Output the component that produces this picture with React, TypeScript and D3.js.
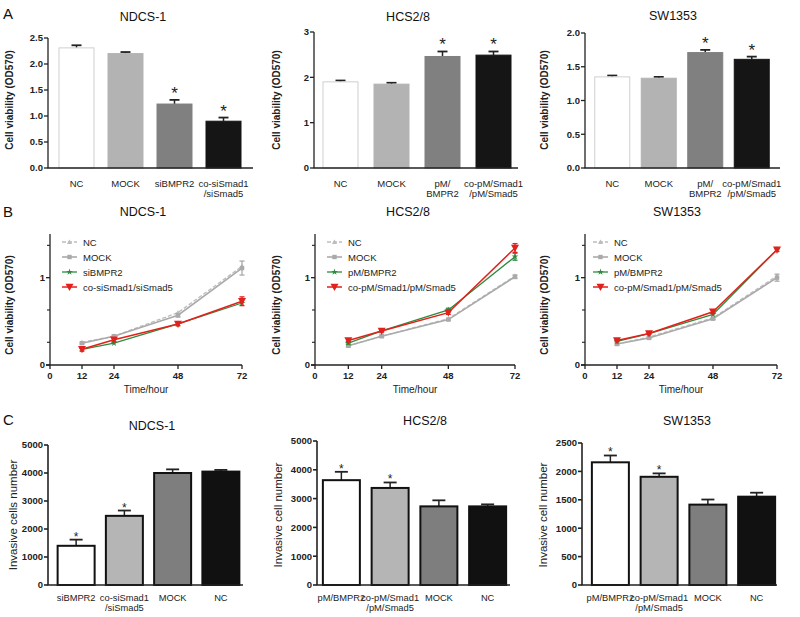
import React from 'react';
import * as d3 from 'd3';

// ---------- Data ----------
const catsA_ND = ['NC', 'MOCK', 'siBMPR2', 'co-siSmad1\n/siSmad5'];
const valsA_ND = [2.31, 2.2, 1.23, 0.9];
const errA_ND = [0.05, 0.03, 0.08, 0.07];
const sigA_ND = [false, false, true, true];

const catsA_HC = ['NC', 'MOCK', 'pM/\nBMPR2', 'co-pM/Smad1\n/pM/Smad5'];
const valsA_HC = [1.9, 1.85, 2.46, 2.49];
const errA_HC = [0.03, 0.03, 0.11, 0.08];
const sigA_HC = [false, false, true, true];

const catsA_SW = ['NC', 'MOCK', 'pM/\nBMPR2', 'co-pM/Smad1\n/pM/Smad5'];
const valsA_SW = [1.35, 1.33, 1.71, 1.61];
const errA_SW = [0.02, 0.02, 0.04, 0.04];
const sigA_SW = [false, false, true, true];

const hours = [12, 24, 48, 72];
const hourTicks = [0, 12, 24, 48, 72];

const seriesB_ND = ['NC', 'MOCK', 'siBMPR2', 'co-siSmad1/siSmad5'];
const B_ND_NC = [0.26, 0.33, 0.6, 1.13];
const B_ND_MOCK = [0.25, 0.33, 0.57, 1.11];
const B_ND_MOCK_err = [0.01, 0.01, 0.02, 0.08];
const B_ND_SI = [0.18, 0.25, 0.47, 0.71];
const B_ND_CO = [0.18, 0.29, 0.47, 0.73];
const B_ND_CO_err = [0.02, 0.02, 0.02, 0.05];

const seriesB_HC = ['NC', 'MOCK', 'pM/BMPR2', 'co-pM/Smad1/pM/Smad5'];
const B_HC_NC = [0.22, 0.33, 0.53, 1.02];
const B_HC_MOCK = [0.22, 0.33, 0.52, 1.01];
const B_HC_MOCK_err = [0.01, 0.01, 0.01, 0.02];
const B_HC_PM = [0.25, 0.39, 0.63, 1.24];
const B_HC_PM_err = [0.01, 0.01, 0.02, 0.04];
const B_HC_CO = [0.28, 0.39, 0.6, 1.34];
const B_HC_CO_err = [0.01, 0.01, 0.02, 0.05];

const seriesB_SW = ['NC', 'MOCK', 'pM/BMPR2', 'co-pM/Smad1/pM/Smad5'];
const B_SW_NC = [0.24, 0.32, 0.54, 1.02];
const B_SW_MOCK = [0.24, 0.31, 0.53, 1.0];
const B_SW_MOCK_err = [0.01, 0.01, 0.01, 0.04];
const B_SW_PM = [0.27, 0.36, 0.58, 1.32];
const B_SW_CO = [0.28, 0.36, 0.61, 1.32];
const B_SW_CO_err = [0.01, 0.01, 0.02, 0.02];

const yTicksB = [0, 1];
const yMinorB = [0.26, 0.63, 1.37];

const catsC_ND = ['siBMPR2', 'co-siSmad1\n/siSmad5', 'MOCK', 'NC'];
const valsC_ND = [1400, 2470, 4000, 4050];
const errC_ND = [220, 190, 130, 60];
const sigC_ND = [true, true, false, false];

const catsC_HC = ['pM/BMPR2', 'co-pM/Smad1\n/pM/Smad5', 'MOCK', 'NC'];
const valsC_HC = [3640, 3370, 2730, 2730];
const errC_HC = [290, 190, 210, 70];
const sigC_HC = [true, true, false, false];

const catsC_SW = ['pM/BMPR2', 'co-pM/Smad1\n/pM/Smad5', 'MOCK', 'NC'];
const valsC_SW = [2160, 1905, 1415, 1555];
const errC_SW = [120, 60, 90, 70];
const sigC_SW = [true, true, false, false];

const ticksA_ND = [0, 0.5, 1, 1.5, 2, 2.5];
const ticksA_HC = [0, 1, 2, 3];
const ticksA_SW = [0, 0.5, 1, 1.5, 2];
const ticksC_ND = [0, 1000, 2000, 3000, 4000, 5000];
const ticksC_SW = [0, 500, 1000, 1500, 2000, 2500];

const FONT = '"Liberation Sans", Arial, Helvetica, sans-serif';

// ---------- Bar chart ----------
type BarProps = {
  cats: string[]; vals: number[]; errs: number[]; sig: boolean[];
  axisX: number; axisEnd: number; bandL: number; bandR: number;
  y0: number; yTop: number; yMax: number; ticks: number[]; fmt: (v: number) => string;
  fills: string[]; strokes: string[]; strokeW: number; barW: number;
  title: string; titleX: number; titleY: number;
  ylabel: string; ylabelX: number; ylabelY: number; ylabelBold: boolean; ylabelSize: number;
  labelY: number; labelSize: number; starSize: number; starGap: number; axisW: number; capW: number;
  tickSize: number;
};

function BarChart(p: BarProps) {
  const y = d3.scaleLinear().domain([0, p.yMax]).range([p.y0, p.yTop]);
  const x = d3.scalePoint<string>().domain(p.cats).range([p.bandL, p.bandR]).padding(0.5);
  return (
    <g fontFamily={FONT}>
      <text x={p.titleX} y={p.titleY} textAnchor="middle" fontSize={12.5} fill="#111">{p.title}</text>
      <text transform={`translate(${p.ylabelX},${p.ylabelY}) rotate(-90)`} textAnchor="middle"
        fontSize={p.ylabelSize} fontWeight={p.ylabelBold ? 'bold' : 'normal'} fill="#222">{p.ylabel}</text>
      {p.cats.map((c, i) => {
        const cx = x(c)!;
        const top = y(p.vals[i]);
        const et = y(p.vals[i] + p.errs[i]);
        return (
          <g key={c}>
            <line x1={cx} x2={cx} y1={top} y2={et} stroke="#222" strokeWidth={1.5} />
            <line x1={cx - p.capW / 2} x2={cx + p.capW / 2} y1={et} y2={et} stroke="#222" strokeWidth={1.8} />
            <rect x={cx - p.barW / 2} y={top} width={p.barW} height={p.y0 - top}
              fill={p.fills[i]} stroke={p.strokes[i]} strokeWidth={p.strokeW} />
            {p.sig[i] && (
              <text x={cx} y={et - p.starGap} textAnchor="middle" fontSize={p.starSize} fill="#222">*</text>
            )}
            {c.split('\n').map((ln, k) => (
              <text key={k} x={cx} y={p.labelY + k * (p.labelSize + 0.5)} textAnchor="middle"
                fontSize={p.labelSize} fill="#222">{ln}</text>
            ))}
          </g>
        );
      })}
      <line x1={p.axisX} x2={p.axisX} y1={p.y0} y2={p.yTop} stroke="#222" strokeWidth={p.axisW} />
      <line x1={p.axisX - 0.5} x2={p.axisEnd} y1={p.y0} y2={p.y0} stroke="#222" strokeWidth={p.axisW} />
      {p.ticks.map(t => (
        <g key={t}>
          <line x1={p.axisX - 4} x2={p.axisX} y1={y(t)} y2={y(t)} stroke="#222" strokeWidth={p.axisW} />
          <text x={p.axisX - 5} y={y(t) + 3.3} textAnchor="end" fontSize={p.tickSize} fontWeight="bold" fill="#222">{p.fmt(t)}</text>
        </g>
      ))}
    </g>
  );
}

// ---------- Line chart ----------
type Series = { name: string; vals: number[]; errs?: number[]; color: string; dash?: string; marker: string; width: number };
type LineProps = {
  series: Series[]; x0: number; x1: number; title: string; titleX: number; ylabelX: number;
  legX: number;
};

function Marker({ kind, x, y, color }: { kind: string; x: number; y: number; color: string }) {
  if (kind === 'tri') {
    const s = 2.6;
    return <path d={`M${x},${y - s}L${x + s},${y + s * 0.8}L${x - s},${y + s * 0.8}Z`} fill={color} />;
  }
  if (kind === 'sq') return <rect x={x - 2.2} y={y - 2.2} width={4.4} height={4.4} fill={color} />;
  if (kind === 'star') {
    return <path d={d3.symbol().type(d3.symbolStar).size(14)()!} transform={`translate(${x},${y})`} fill={color} />;
  }
  const s = 4;
  return <path d={`M${x - s},${y - s * 0.8}L${x + s},${y - s * 0.8}L${x},${y + s}Z`} fill={color} />;
}

function LineChart(p: LineProps) {
  const y0 = 365;
  const y = d3.scaleLinear().domain([0, 1.5]).range([y0, 234]);
  const x = d3.scaleLinear().domain([0, 72]).range([p.x0, p.x1]);
  const line = d3.line<number>().x((_, i) => x(hours[i])).y(v => y(v));
  return (
    <g fontFamily={FONT}>
      <text x={p.titleX} y={216} textAnchor="middle" fontSize={12.5} fill="#111">{p.title}</text>
      <text transform={`translate(${p.ylabelX},305) rotate(-90)`} textAnchor="middle" fontSize={10} fontWeight="bold" fill="#222">Cell viability (OD570)</text>
      <text x={(p.x0 + p.x1) / 2} y={393} textAnchor="middle" fontSize={10} fill="#222">Time/hour</text>
      <line x1={p.x0} x2={p.x0} y1={y0} y2={y(1.5)} stroke="#222" strokeWidth={1.3} />
      <line x1={p.x0 - 4} x2={p.x1} y1={y0} y2={y0} stroke="#222" strokeWidth={1.3} />
      {yTicksB.map(t => (
        <g key={t}>
          <line x1={p.x0 - 4} x2={p.x0} y1={y(t)} y2={y(t)} stroke="#222" strokeWidth={1.3} />
          <text x={p.x0 - 5} y={y(t) + 3.3} textAnchor="end" fontSize={9.5} fontWeight="bold" fill="#222">{t}</text>
        </g>
      ))}
      {yMinorB.map(t => (
        <line key={t} x1={p.x0 - 3} x2={p.x0} y1={y(t)} y2={y(t)} stroke="#222" strokeWidth={1.1} />
      ))}
      {hourTicks.map(t => (
        <g key={t}>
          <line x1={x(t)} x2={x(t)} y1={y0} y2={y0 + 4} stroke="#222" strokeWidth={1.3} />
          <text x={x(t)} y={y0 + 14} textAnchor="middle" fontSize={9.5} fontWeight="bold" fill="#222">{t}</text>
        </g>
      ))}
      {p.series.map(s => (
        <g key={s.name}>
          <path d={line(s.vals)!} fill="none" stroke={s.color} strokeWidth={s.width} strokeDasharray={s.dash} />
          {s.errs && s.vals.map((v, i) => {
            const xx = x(hours[i]);
            const a = y(v - s.errs![i]); const b = y(v + s.errs![i]);
            return (
              <g key={i}>
                <line x1={xx} x2={xx} y1={a} y2={b} stroke={s.color} strokeWidth={1.3} />
                <line x1={xx - 2.5} x2={xx + 2.5} y1={a} y2={a} stroke={s.color} strokeWidth={1.3} />
                <line x1={xx - 2.5} x2={xx + 2.5} y1={b} y2={b} stroke={s.color} strokeWidth={1.3} />
              </g>
            );
          })}
          {s.vals.map((v, i) => <Marker key={i} kind={s.marker} x={x(hours[i])} y={y(v)} color={s.color} />)}
        </g>
      ))}
      {p.series.map((s, i) => {
        const ly = 242 + i * 15;
        return (
          <g key={'l' + s.name}>
            <line x1={p.legX} x2={p.legX + 15} y1={ly} y2={ly} stroke={s.color} strokeWidth={s.width} strokeDasharray={s.dash} />
            <Marker kind={s.marker} x={p.legX + 7.5} y={ly} color={s.color} />
            <text x={p.legX + 21} y={ly + 3.5} fontSize={9.5} fill="#222">{s.name}</text>
          </g>
        );
      })}
    </g>
  );
}

const GREY_NC = '#bdbdbd';
const GREY_MOCK = '#aaaaaa';
const GREEN = '#2e8b3e';
const RED = '#e3211c';

function mkSeries(names: string[], nc: number[], mock: number[], mockErr: number[] | undefined, g: number[], gErr: number[] | undefined, r: number[], rErr: number[] | undefined): Series[] {
  return [
    { name: names[0], vals: nc, color: GREY_NC, dash: '4,2', marker: 'tri', width: 1.3 },
    { name: names[1], vals: mock, errs: mockErr, color: GREY_MOCK, marker: 'sq', width: 1.6 },
    { name: names[2], vals: g, errs: gErr, color: GREEN, marker: 'star', width: 1.3 },
    { name: names[3], vals: r, errs: rErr, color: RED, marker: 'tri-down', width: 1.5 },
  ];
}

const fmt1 = d3.format('.1f');
const fmt0 = d3.format('d');

export default function App() {
  const aFills = ['#ffffff', '#b3b3b3', '#808080', '#151515'];
  const aStrokes = ['#cfcfcf', '#b3b3b3', '#808080', '#151515'];
  const cFills = ['#ffffff', '#b5b5b5', '#7e7e7e', '#111111'];
  const cStrokes = ['#111', '#111', '#111', '#111'];
  const commonA = {
    y0: 168, fills: aFills, strokes: aStrokes, strokeW: 1, barW: 35,
    ylabel: 'Cell viability (OD570)', ylabelY: 100, ylabelBold: true, ylabelSize: 10,
    labelY: 187, labelSize: 9.5, starSize: 17, starGap: 1, axisW: 1.3, capW: 10, tickSize: 9.5,
  };
  const commonC = {
    y0: 585, fills: cFills, strokes: cStrokes, strokeW: 2, barW: 37,
    ylabelY: 515, ylabelBold: false, ylabelSize: 11.5,
    labelY: 601, labelSize: 9.3, starSize: 12, starGap: -1, axisW: 1.6, capW: 13, tickSize: 9.5,
  };
  return (
    <svg width={800} height={617} style={{ position: 'absolute', left: 0, top: 0, background: '#fff' }}>
      <rect width={800} height={617} fill="#fff" />
      <g fontFamily={FONT} fontSize={15} fill="#111">
        <text x={3} y={19}>A</text>
        <text x={3} y={217}>B</text>
        <text x={3} y={425}>C</text>
      </g>
      <BarChart {...commonA} cats={catsA_ND} vals={valsA_ND} errs={errA_ND} sig={sigA_ND}
        axisX={48} axisEnd={253} bandL={52} bandR={248} yTop={38} yMax={2.5} ticks={ticksA_ND} fmt={fmt1}
        title="NDCS-1" titleX={143} titleY={21} ylabelX={13} />
      <BarChart {...commonA} cats={catsA_HC} vals={valsA_HC} errs={errA_HC} sig={sigA_HC}
        axisX={314} axisEnd={518} bandL={315} bandR={519} yTop={32} yMax={3} ticks={ticksA_HC} fmt={fmt0}
        title="HCS2/8" titleX={408} titleY={21} ylabelX={280} />
      <BarChart {...commonA} cats={catsA_SW} vals={valsA_SW} errs={errA_SW} sig={sigA_SW}
        axisX={585} axisEnd={780} bandL={589} bandR={775} yTop={33} yMax={2} ticks={ticksA_SW} fmt={fmt1}
        title="SW1353" titleX={673} titleY={20} ylabelX={548} />

      <LineChart series={mkSeries(seriesB_ND, B_ND_NC, B_ND_MOCK, B_ND_MOCK_err, B_ND_SI, undefined, B_ND_CO, B_ND_CO_err)}
        x0={50} x1={242} title="NDCS-1" titleX={143} ylabelX={13} legX={62} />
      <LineChart series={mkSeries(seriesB_HC, B_HC_NC, B_HC_MOCK, B_HC_MOCK_err, B_HC_PM, B_HC_PM_err, B_HC_CO, B_HC_CO_err)}
        x0={315} x1={515} title="HCS2/8" titleX={408} ylabelX={280} legX={327} />
      <LineChart series={mkSeries(seriesB_SW, B_SW_NC, B_SW_MOCK, B_SW_MOCK_err, B_SW_PM, undefined, B_SW_CO, B_SW_CO_err)}
        x0={585} x1={777} title="SW1353" titleX={677} ylabelX={548} legX={593} />

      <BarChart {...commonC} cats={catsC_ND} vals={valsC_ND} errs={errC_ND} sig={sigC_ND}
        axisX={48} axisEnd={243} bandL={52} bandR={245} yTop={445} yMax={5000} ticks={ticksC_ND} fmt={fmt0}
        title="NDCS-1" titleX={152} titleY={430} ylabel="Invasive cells number" ylabelX={17} />
      <BarChart {...commonC} cats={catsC_HC} vals={valsC_HC} errs={errC_HC} sig={sigC_HC}
        axisX={317} axisEnd={510} bandL={317} bandR={512} yTop={441} yMax={5000} ticks={ticksC_ND} fmt={fmt0}
        title="HCS2/8" titleX={425} titleY={425} ylabel="Invasive cell number" ylabelX={282} />
      <BarChart {...commonC} cats={catsC_SW} vals={valsC_SW} errs={errC_SW} sig={sigC_SW}
        axisX={582} axisEnd={777} bandL={586} bandR={781} yTop={443} yMax={2500} ticks={ticksC_SW} fmt={fmt0}
        title="SW1353" titleX={687} titleY={425} ylabel="Invasive cell number" ylabelX={547} />
    </svg>
  );
}
